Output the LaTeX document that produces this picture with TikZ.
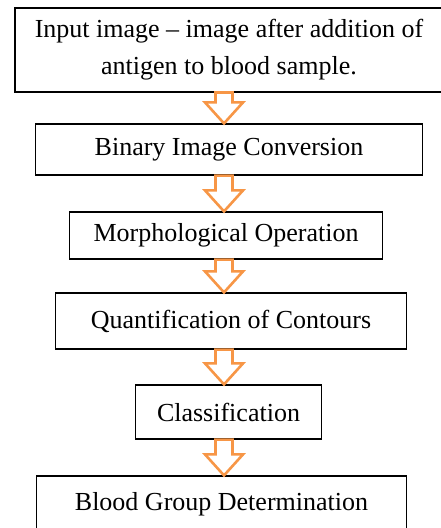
\documentclass[tikz,border=0pt]{standalone}
\usepackage{fontspec}
\setmainfont{Liberation Serif}
\usetikzlibrary{calc}

\definecolor{arroworange}{RGB}{247,150,70}

% hollow block arrow from the bottom of one box to the top of the next
\newcommand{\flowto}[2]{%
	\draw[flowarrow] let \p1=(#1.south -| axis), \p2=(#2.north -| axis) in
		(\x1-8.5bp,\y1) -- (\x1-8.5bp,\y2+21bp) -- (\x1-19bp,\y2+21bp) -- (\x2,\y2)
		-- (\x1+19bp,\y2+21bp) -- (\x1+8.5bp,\y2+21bp) -- (\x1+8.5bp,\y1) -- cycle;}

\begin{document}
\begin{tikzpicture}[x=1bp, y=-1bp,
		procbox/.style={draw, line width=1.4bp, inner sep=0pt, align=center,
			font=\fontsize{26bp}{37bp}\selectfont},
		flowarrow/.style={draw=arroworange, fill=white, line width=2.6bp, line join=miter}]
		\useasboundingbox[fill=white] (0,0) rectangle (441,528);
		% process boxes, top to bottom
		\node[procbox, minimum width=430, minimum height=84] (input) at (229,50)
			{Input image -- image after addition of\\antigen to blood sample.};
		\node[procbox, minimum width=388, minimum height=51] (binary) at (229,149.5) {Binary Image Conversion};
		\node[procbox, minimum width=314, minimum height=47] (morph) at (226,235.5) {Morphological Operation};
		\node[procbox, minimum width=352, minimum height=56] (contours) at (231,321) {Quantification of Contours};
		\node[procbox, minimum width=187, minimum height=54] (classify) at (228.5,412) {Classification};
		\node[procbox, minimum width=371, minimum height=56] (bloodgroup) at (221.5,504) {Blood Group Determination};
		% all arrows share one vertical axis
		\coordinate (axis) at (224,0);
		\flowto{input}{binary}
		\flowto{binary}{morph}
		\flowto{morph}{contours}
		\flowto{contours}{classify}
		\flowto{classify}{bloodgroup}
	\end{tikzpicture}
\end{document}
